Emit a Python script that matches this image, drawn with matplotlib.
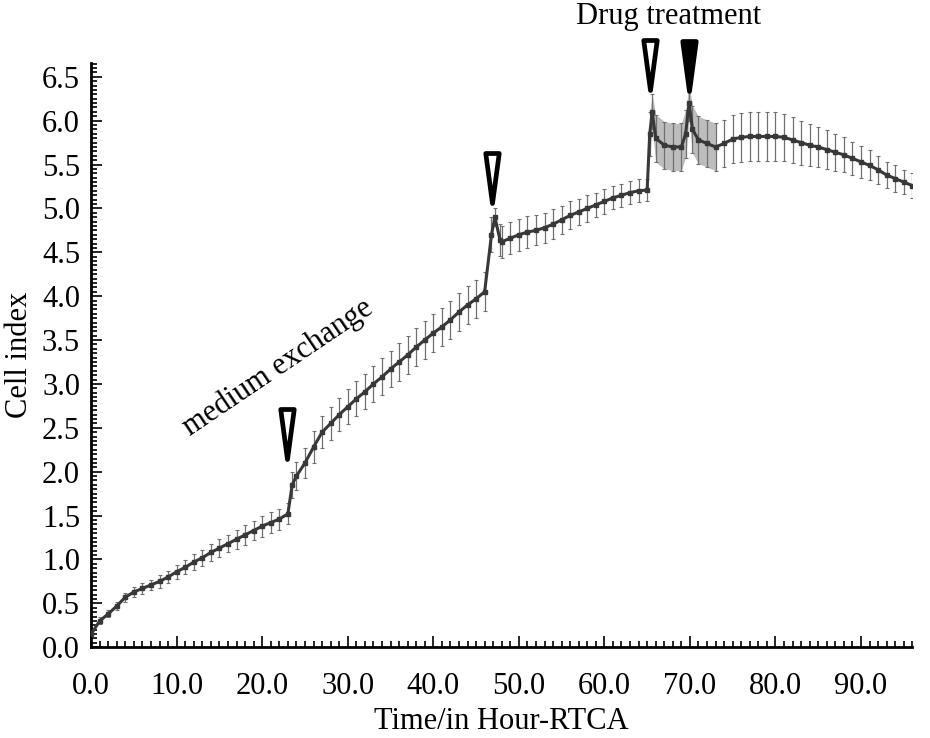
import numpy as np
import matplotlib
matplotlib.use('Agg')
import matplotlib.pyplot as plt
from matplotlib.path import Path
from matplotlib.ticker import MultipleLocator, FormatStrFormatter

# RTCA cell index readings (hours, mean, sd)
hours = [0, 1, 2, 3, 4, 5, 6, 7, 8, 9, 10, 11, 12, 13, 14, 15, 16, 17, 18, 19,
         20, 21, 22, 23, 23.5, 24, 25, 26, 27, 28, 29, 30, 31, 32, 33, 34, 35,
         36, 37, 38, 39, 40, 41, 42, 43, 44, 45, 46, 46.8, 47.2, 47.8, 48, 49,
         50, 51, 52, 53, 54, 55, 56, 57, 58, 59, 60, 61, 62, 63, 64, 65, 65.3,
         65.6, 66, 67, 68, 69, 69.5, 69.9, 70.3, 71, 72, 73, 74, 75, 76, 77,
         78, 79, 80, 81, 82, 83, 84, 85, 86, 87, 88, 89, 90, 91, 92, 93, 94,
         95, 96]
cell_index = [0.15, 0.30, 0.38, 0.47, 0.57, 0.63, 0.67, 0.71, 0.75, 0.80, 0.86,
              0.91, 0.97, 1.02, 1.08, 1.13, 1.18, 1.23, 1.28, 1.33, 1.38, 1.42,
              1.46, 1.52, 1.85, 1.95, 2.10, 2.28, 2.45, 2.55, 2.65, 2.74, 2.83,
              2.91, 3.00, 3.08, 3.17, 3.25, 3.33, 3.42, 3.50, 3.58, 3.65, 3.73,
              3.82, 3.90, 3.97, 4.05, 4.70, 4.90, 4.64, 4.62, 4.66, 4.70, 4.73,
              4.75, 4.78, 4.82, 4.87, 4.92, 4.96, 5.00, 5.04, 5.08, 5.12, 5.15,
              5.18, 5.20, 5.21, 5.85, 6.10, 5.80, 5.72, 5.70, 5.70, 5.85, 6.20,
              5.90, 5.78, 5.74, 5.70, 5.74, 5.79, 5.81, 5.82, 5.82, 5.82, 5.82,
              5.81, 5.78, 5.75, 5.72, 5.70, 5.67, 5.64, 5.61, 5.57, 5.53, 5.49,
              5.44, 5.38, 5.34, 5.30, 5.26]
sd = [0.03, 0.04, 0.04, 0.05, 0.05, 0.06, 0.06, 0.06, 0.07, 0.07, 0.08, 0.08,
      0.09, 0.09, 0.10, 0.10, 0.10, 0.11, 0.11, 0.11, 0.12, 0.12, 0.12, 0.12,
      0.15, 0.16, 0.17, 0.18, 0.18, 0.19, 0.19, 0.20, 0.20, 0.20, 0.21, 0.21,
      0.21, 0.22, 0.22, 0.22, 0.22, 0.22, 0.22, 0.22, 0.22, 0.22, 0.22, 0.22,
      0.20, 0.10, 0.18, 0.18, 0.18, 0.18, 0.18, 0.17, 0.17, 0.17, 0.16, 0.16,
      0.15, 0.15, 0.14, 0.14, 0.13, 0.13, 0.13, 0.13, 0.13, 0.25, 0.20, 0.27,
      0.27, 0.27, 0.27, 0.27, 0.20, 0.27, 0.27, 0.27, 0.27, 0.27, 0.27, 0.28,
      0.28, 0.28, 0.28, 0.28, 0.27, 0.26, 0.25, 0.24, 0.23, 0.22, 0.21, 0.20,
      0.19, 0.18, 0.17, 0.16, 0.15, 0.15, 0.14, 0.14]

# arrowheads marking medium exchange (open) and drug treatment (filled)
arrow_hours = [22.9, 46.9, 65.3, 69.9]
arrow_tips = [2.15, 5.06, 6.35, 6.34]
arrow_filled = [False, False, False, True]

plt.rcParams['font.family'] = ['Liberation Serif', 'DejaVu Serif']

fig = plt.figure(figsize=(9.3, 7.38), dpi=100)
ax = fig.add_axes([0.098, 0.123, 0.883, 0.792])

h = np.array(hours)
m = np.array(cell_index)
s = np.array(sd)

# dense grey band right after the medium change / drug addition
band = (h >= 65.3) & (h <= 73)
ax.fill_between(h[band], m[band] - s[band], m[band] + s[band],
                color='#bdbdbd', lw=0, zorder=1)

ax.errorbar(hours, cell_index, yerr=sd, fmt='none', ecolor='#707070',
            elinewidth=0.9, capsize=1.2, capthick=0.8, zorder=2)
ax.plot(hours, cell_index, color='#383838', lw=2.2, marker='s', ms=2.2, zorder=3)

# closed triangle, tip on the data point
tri = Path([(-0.27, 2.0), (0.27, 2.0), (0.0, 0.0), (-0.27, 2.0)],
           [Path.MOVETO, Path.LINETO, Path.LINETO, Path.CLOSEPOLY])
for x, tip, filled in zip(arrow_hours, arrow_tips, arrow_filled):
    ax.plot([x], [tip], marker=tri, ms=72, mec='black', mew=3.4,
            mfc='black' if filled else 'white', clip_on=False, zorder=5)

ax.text(67.5, 7.19, 'Drug treatment', fontsize=22, ha='center', va='center')
ax.text(21.8, 3.19, 'medium exchange', fontsize=22, ha='center', va='center',
        rotation=34, rotation_mode='anchor')

ax.set_xlim(0, 96)
ax.set_ylim(0, 6.66)
ax.xaxis.set_major_locator(MultipleLocator(10))
ax.xaxis.set_minor_locator(MultipleLocator(1))
ax.yaxis.set_major_locator(MultipleLocator(0.5))
ax.yaxis.set_minor_locator(MultipleLocator(0.05))
ax.xaxis.set_major_formatter(FormatStrFormatter('%.1f'))
ax.yaxis.set_major_formatter(FormatStrFormatter('%.1f'))
ax.set_xticks(np.arange(0, 91, 10))
ax.tick_params(which='both', direction='in', width=1.2, labelsize=22)
ax.tick_params(which='major', length=8)
ax.tick_params(which='minor', length=4)
ax.tick_params(axis='x', pad=18)
ax.tick_params(axis='y', pad=8)

for side in ['top', 'right']:
    ax.spines[side].set_visible(False)
for side in ['left', 'bottom']:
    ax.spines[side].set_linewidth(2)

ax.set_xlabel('Time/in Hour-RTCA', fontsize=22, labelpad=4)
ax.set_ylabel('Cell index', fontsize=22, labelpad=6)

fig.savefig('out.png', dpi=100)
